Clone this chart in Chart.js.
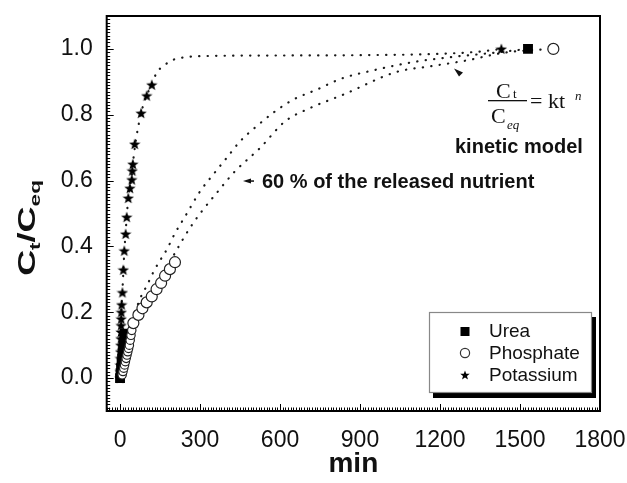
<!DOCTYPE html>
<html>
<head>
<meta charset="utf-8">
<script src="https://cdn.jsdelivr.net/npm/chart.js@4.4.0/dist/chart.umd.min.js"></script>
<style>
  html, body { margin: 0; padding: 0; background: #fff; }
</style>
</head>
<body>
<canvas id="myChart" width="627" height="483"></canvas>
<script>
// measured data (min, Ct/Ceq)
const ureaX = [0, 2, 4, 6, 8, 10, 12, 14, 16, 18, 1530];
const ureaY = [0, 0.015, 0.03, 0.045, 0.06, 0.075, 0.09, 0.105, 0.12, 0.135, 1.0];

const phosphateX = [8, 11, 14, 17, 20, 23, 26, 29, 32, 35, 38, 41, 44, 50, 69, 84, 100, 119, 137, 154, 169, 187, 206, 1625];
const phosphateY = [0.01, 0.02, 0.03, 0.04, 0.05, 0.06, 0.07, 0.08, 0.09, 0.10, 0.115, 0.13, 0.145, 0.167, 0.192, 0.212, 0.23, 0.248, 0.27, 0.289, 0.311, 0.331, 0.352, 1.0];

const potassiumX = [0, 0.5, 1, 1.5, 2, 2.5, 3, 3.5, 4, 4.5, 5, 6, 9, 12.5, 16, 21, 25, 31, 37, 44, 46, 48, 55, 79, 100, 119, 1430];
const potassiumY = [0, 0.02, 0.04, 0.06, 0.08, 0.10, 0.12, 0.14, 0.16, 0.18, 0.20, 0.223, 0.26, 0.329, 0.387, 0.438, 0.489, 0.547, 0.577, 0.603, 0.63, 0.65, 0.711, 0.805, 0.858, 0.891, 1.0];

// kinetic model curves
const ureaFitX = [0, 10, 20, 40, 60, 80, 100, 130, 156, 175, 206, 244, 300, 349, 400, 450, 512, 581, 650, 737, 831, 950, 1100, 1250, 1400, 1530];
const ureaFitY = [0, 0.07, 0.11, 0.17, 0.21, 0.25, 0.28, 0.33, 0.365, 0.39, 0.44, 0.491, 0.567, 0.618, 0.669, 0.719, 0.765, 0.81, 0.846, 0.876, 0.91, 0.935, 0.96, 0.976, 0.988, 1.0];

const phosphateFitX = [0, 10, 20, 40, 60, 80, 100, 130, 160, 206, 262, 306, 362, 431, 525, 619, 712, 837, 1037, 1162, 1300, 1436, 1540, 1625];
const phosphateFitY = [0, 0.05, 0.08, 0.13, 0.17, 0.2, 0.23, 0.27, 0.31, 0.38, 0.456, 0.506, 0.562, 0.628, 0.699, 0.78, 0.82, 0.861, 0.93, 0.947, 0.965, 0.988, 0.996, 1.0];

const potassiumFitX = [0, 3, 6, 9, 12.5, 16, 21, 25, 31, 37, 44, 50, 60, 79, 100, 119, 137, 169, 200, 250, 300, 600, 900, 1200, 1350, 1430];
const potassiumFitY = [0, 0.16, 0.223, 0.265, 0.325, 0.385, 0.44, 0.49, 0.545, 0.58, 0.615, 0.665, 0.725, 0.805, 0.858, 0.893, 0.927, 0.952, 0.967, 0.975, 0.978, 0.98, 0.981, 0.985, 0.992, 1.0];

const xTicks = [0, 300, 600, 900, 1200, 1500, 1800];
const yTicks = [0, 0.2, 0.4, 0.6, 0.8, 1.0];

const legendNames = ["Urea", "Phosphate", "Potassium"];

const sans = "'Liberation Sans', Arial, sans-serif";
const serif = "'Liberation Serif', 'Times New Roman', serif";

function pts(xs, ys) {
  return xs.map((x, i) => ({ x: x, y: ys[i] }));
}

function starImage(size) {
  const c = document.createElement("canvas");
  c.width = size; c.height = size;
  const g = c.getContext("2d");
  const r = size / 2, ri = r * 0.42;
  g.beginPath();
  for (let i = 0; i < 10; i++) {
    const a = -Math.PI / 2 + i * Math.PI / 5;
    const rr = i % 2 ? ri : r;
    g.lineTo(r + rr * Math.cos(a), r * 1.08 + rr * Math.sin(a));
  }
  g.closePath();
  g.fillStyle = "#000";
  g.fill();
  return c;
}
const star = starImage(12);
const smallStar = starImage(10);

function fitLine(data) {
  return {
    data: data, showLine: true, pointRadius: 0,
    borderColor: "#1a1a1a", borderWidth: 2.2,
    borderDash: [0.3, 8.2], borderCapStyle: "round",
    cubicInterpolationMode: "monotone", order: 5
  };
}

// frame, inward ticks, y title, annotations, legend
const decor = {
  id: "decor",
  afterDraw(chart) {
    const ctx = chart.ctx, a = chart.chartArea;
    const xs = chart.scales.x, ys = chart.scales.y;
    ctx.save();
    ctx.strokeStyle = "#000";
    ctx.lineWidth = 1;
    ctx.beginPath();
    for (let v = -50; v <= 1800; v += 10) {
      const px = Math.round(xs.getPixelForValue(v)) + 0.5;
      const len = v % 300 === 0 ? 7 : 3.5;
      ctx.moveTo(px, a.bottom); ctx.lineTo(px, a.bottom - len);
    }
    for (let i = -10; i <= 110; i++) {
      const py = Math.round(ys.getPixelForValue(i / 100)) + 0.5;
      const len = i % 20 === 0 ? 7 : 3.5;
      ctx.moveTo(a.left, py); ctx.lineTo(a.left + len, py);
    }
    ctx.stroke();
    ctx.lineWidth = 2;
    ctx.strokeRect(a.left, a.top, a.right - a.left, a.bottom - a.top);

    // y title Ct/Ceq (wide, squat lettering)
    ctx.fillStyle = "#111";
    ctx.translate(35, 228);
    ctx.rotate(-Math.PI / 2);
    ctx.scale(1.5, 1);
    ctx.textBaseline = "alphabetic";
    const big = "bold 24px " + sans, sub = "bold 15px " + sans;
    const parts = [["C", big, 0], ["t", sub, 5], ["/C", big, 0], ["eq", sub, 5]];
    let w = 0;
    parts.forEach(p => { ctx.font = p[1]; w += ctx.measureText(p[0]).width; });
    let cx = -w / 2;
    parts.forEach(p => { ctx.font = p[1]; ctx.fillText(p[0], cx, p[2]); cx += ctx.measureText(p[0]).width; });
    ctx.setTransform(1, 0, 0, 1, 0, 0);

    // formula
    ctx.font = "22px " + serif;
    ctx.fillText("C", 496, 98);
    ctx.font = "13px " + serif;
    ctx.fillText("t", 513, 98);
    ctx.fillRect(488, 100, 39, 1.3);
    ctx.font = "22px " + serif;
    ctx.fillText("C", 491, 123);
    ctx.font = "italic 13px " + serif;
    ctx.fillText("eq", 507, 129);
    ctx.font = "22px " + serif;
    ctx.fillText("= kt", 530, 108);
    ctx.font = "italic 13px " + serif;
    ctx.fillText("n", 575, 100);

    ctx.font = "bold 20px " + sans;
    ctx.fillText("kinetic model", 455, 153);
    ctx.fillText("60 % of the released nutrient", 262, 188);

    // arrow heads
    ctx.beginPath();
    ctx.moveTo(243, 181); ctx.lineTo(251, 178.5); ctx.lineTo(251, 183.5); ctx.closePath();
    ctx.fill();
    ctx.fillRect(250, 180.3, 4, 1.5);
    ctx.beginPath();
    ctx.moveTo(454, 68.5); ctx.lineTo(463, 72.5); ctx.lineTo(459, 76.5); ctx.closePath();
    ctx.fill();

    // legend box
    ctx.fillStyle = "#000";
    ctx.fillRect(433, 317, 163, 81);
    ctx.fillStyle = "#fff";
    ctx.fillRect(429, 312, 163, 81);
    ctx.strokeStyle = "#888";
    ctx.lineWidth = 1.2;
    ctx.strokeRect(429.5, 312.5, 162, 80);
    ctx.fillStyle = "#000";
    ctx.fillRect(460.5, 327, 9, 9);
    ctx.beginPath();
    ctx.arc(465, 353, 4.6, 0, Math.PI * 2);
    ctx.strokeStyle = "#333"; ctx.lineWidth = 1.2; ctx.stroke();
    ctx.drawImage(smallStar, 460, 370);
    ctx.fillStyle = "#111";
    ctx.font = "19px " + sans;
    ctx.textBaseline = "middle";
    legendNames.forEach((t, i) => ctx.fillText(t, 489, 332 + i * 22));
    ctx.restore();
  }
};

const config = {
  type: "scatter",
  data: {
    datasets: [
      { data: pts(phosphateX, phosphateY), pointStyle: "circle",
        pointRadius: c => (c.raw && c.raw.y < 0.16 ? 4.2 : 5.5),
        backgroundColor: "#fff", borderColor: "#222", borderWidth: 1.2, order: 1 },
      { data: pts(ureaX, ureaY), pointStyle: "rect", pointRadius: 7,
        backgroundColor: "#000", borderColor: "#000", borderWidth: 0, order: 2 },
      { data: pts(potassiumX, potassiumY), pointStyle: star, order: 3 },
      fitLine(pts(ureaFitX, ureaFitY)),
      fitLine(pts(phosphateFitX, phosphateFitY)),
      fitLine(pts(potassiumFitX, potassiumFitY))
    ]
  },
  options: {
    responsive: false,
    animation: false,
    devicePixelRatio: 1,
    layout: { padding: { left: 0, right: 27, top: 16, bottom: 0 } },
    plugins: { legend: { display: false }, tooltip: { enabled: false } },
    scales: {
      x: {
        type: "linear", min: -50, max: 1800,
        afterBuildTicks: s => { s.ticks = xTicks.map(v => ({ value: v })); },
        afterFit: s => { s.height = 72; s.paddingLeft = 0; s.paddingRight = 0; },
        grid: { display: false, drawTicks: false },
        border: { display: false },
        ticks: { font: { family: sans, size: 23 }, color: "#111", padding: 16, maxRotation: 0, callback: v => String(v) },
        title: { display: true, text: "min", color: "#111", font: { family: sans, size: 28, weight: "bold" }, padding: { top: 0, bottom: 2 } }
      },
      y: {
        type: "linear", min: -0.1, max: 1.1,
        afterBuildTicks: s => { s.ticks = yTicks.map(v => ({ value: v })); },
        afterFit: s => { s.width = 106.7; s.paddingTop = 0; s.paddingBottom = 0; },
        grid: { display: false, drawTicks: false },
        border: { display: false },
        ticks: { font: { family: sans, size: 23 }, color: "#111", padding: 14, callback: v => v.toFixed(1) }
      }
    }
  },
  plugins: [decor]
};

var myChart = new Chart(document.getElementById("myChart"), config);
</script>
</body>
</html>
